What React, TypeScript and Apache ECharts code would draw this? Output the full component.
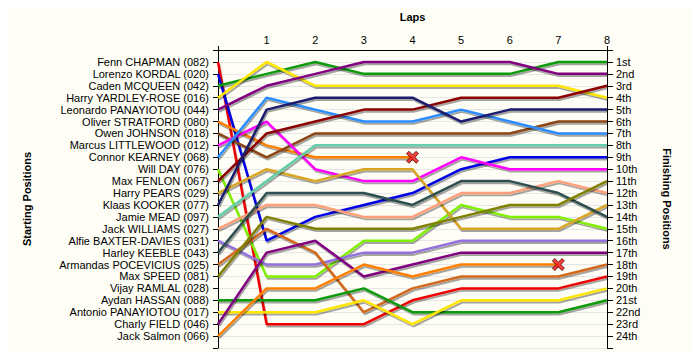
import React, { useEffect, useRef } from "react";
import * as echarts from "echarts";

const drivers: string[] = [
  "Fenn CHAPMAN (082)",
  "Lorenzo KORDAL (020)",
  "Caden MCQUEEN (042)",
  "Harry YARDLEY-ROSE (016)",
  "Leonardo PANAYIOTOU (044)",
  "Oliver STRATFORD (080)",
  "Owen JOHNSON (018)",
  "Marcus LITTLEWOOD (012)",
  "Connor KEARNEY (068)",
  "Will DAY (076)",
  "Max FENLON (067)",
  "Harry PEARS (029)",
  "Klaas KOOKER (077)",
  "Jamie MEAD (097)",
  "Jack WILLIAMS (027)",
  "Alfie BAXTER-DAVIES (031)",
  "Harley KEEBLE (043)",
  "Armandas POCEVICIUS (025)",
  "Max SPEED (081)",
  "Vijay RAMLAL (028)",
  "Aydan HASSAN (088)",
  "Antonio PANAYIOTOU (017)",
  "Charly FIELD (046)",
  "Jack Salmon (066)",
];

const lineColors: string[] = [
  "#ee0000", "#0000e6", "#0a9a0a", "#ffe600", "#800080", "#ff8000",
  "#8b4513", "#ff00ff", "#2b8cff", "#80f000", "#8b0000", "#daa520",
  "#1c1c6e", "#66cdaa", "#ffa07a", "#9370db", "#2f4f4f", "#d2691e",
  "#808000", "#888888", "#0a9a0a", "#ffe600", "#800080", "#ff8000",
];

// position of each driver at lap 0 (start) .. lap 8; shorter arrays = retired
const positionsByLap: number[][] = [
  [1, 23, 23, 23, 21, 20, 20, 20, 19],
  [2, 16, 14, 13, 12, 10, 9, 9, 9],
  [3, 2, 1, 2, 2, 2, 2, 1, 1],
  [4, 1, 3, 3, 3, 3, 3, 3, 4],
  [5, 3, 2, 1, 1, 1, 1, 2, 2],
  [6, 8, 9, 9, 9],
  [7, 9, 7, 7, 7, 7, 7, 6, 6],
  [8, 6, 10, 11, 11, 9, 10, 10, 10],
  [9, 4, 5, 6, 6, 5, 6, 7, 7],
  [10, 19, 19, 16, 16, 13, 14, 14, 15],
  [11, 7, 6, 5, 5, 4, 4, 4, 3],
  [12, 10, 11, 10, 10, 15, 15, 15, 13],
  [13, 5, 4, 4, 4, 6, 5, 5, 5],
  [14, 11, 8, 8, 8, 8, 8, 8, 8],
  [15, 13, 13, 14, 14, 12, 12, 11, 12],
  [16, 18, 18, 17, 17, 16, 16, 16, 16],
  [17, 12, 12, 12, 13, 11, 11, 12, 14],
  [18, 15, 17, 22, 20, 19, 19, 19, 18],
  [19, 14, 15, 15, 15, 14, 13, 13, 11],
  [],
  [21, 21, 21, 20, 22, 22, 22, 22, 21],
  [22, 22, 22, 21, 23, 21, 21, 21, 20],
  [23, 17, 16, 19, 18, 17, 17, 17, 17],
  [24, 20, 20, 18, 19, 18, 18, 18],
];

const lapCount = 8;

const finishLabels: string[] = [
  "1st", "2nd", "3rd", "4th", "5th", "6th", "7th", "8th", "9th", "10th",
  "11th", "12th", "13th", "14th", "15th", "16th", "17th", "18th", "19th",
  "20th", "21st", "22nd", "23rd", "24th",
];

const FONT = "'Liberation Sans', Arial, sans-serif";
const CROSS =
  "path://M2,0 L5,3 L8,0 L10,2 L7,5 L10,8 L8,10 L5,7 L2,10 L0,8 L3,5 L0,2 Z";

export default function App() {
  const ref = useRef<HTMLDivElement>(null);

  useEffect(() => {
    if (!ref.current) return;
    const chart = echarts.init(ref.current, undefined, { renderer: "svg" });

    const lineSeries = positionsByLap
      .map((arr, i) => ({ arr, i }))
      .filter((d) => d.arr.length > 0)
      .map(({ arr, i }) => ({
        type: "line" as const,
        name: drivers[i],
        data: arr.map((p, lap) => [lap, p]),
        showSymbol: false,
        symbol: "none",
        yAxisIndex: 0,
        lineStyle: {
          color: lineColors[i],
          width: 2.5,
          shadowColor: "rgba(0,0,0,0.35)",
          shadowBlur: 1,
          shadowOffsetX: 1,
          shadowOffsetY: 2,
        },
        itemStyle: { color: lineColors[i] },
        z: 3,
      }));

    const retired = positionsByLap
      .filter((arr) => arr.length > 0 && arr.length < lapCount + 1)
      .map((arr) => [arr.length - 1, arr[arr.length - 1]]);

    const yCommon = {
      type: "value" as const,
      min: 0,
      max: 25,
      interval: 1,
      inverse: true,
      nameLocation: "middle" as const,
      nameTextStyle: {
        fontFamily: FONT,
        fontSize: 11,
        fontWeight: "bold" as const,
        color: "#000",
      },
      axisLine: { show: true, lineStyle: { color: "#000", width: 1 } },
      axisTick: {
        show: true,
        inside: false,
        length: 5,
        lineStyle: { color: "#000" },
      },
    };

    chart.setOption({
      animation: false,
      backgroundColor: "#fefef6",
      textStyle: { fontFamily: FONT },
      grid: { left: 218, right: 93, top: 50, bottom: 12, containLabel: false },
      xAxis: {
        type: "value",
        position: "top",
        min: 0,
        max: lapCount,
        interval: 1,
        name: "Laps",
        nameLocation: "middle",
        nameGap: 28,
        nameTextStyle: {
          fontFamily: FONT,
          fontSize: 11,
          fontWeight: "bold",
          color: "#000",
        },
        axisLine: { show: true, lineStyle: { color: "#000", width: 1 } },
        axisTick: {
          show: true,
          length: 4,
          customValues: [0, lapCount],
          lineStyle: { color: "#000" },
        },
        axisLabel: {
          margin: 5,
          fontFamily: FONT,
          fontSize: 11,
          color: "#000",
          formatter: (v: number) => (v === 0 ? "" : String(v)),
        },
        splitLine: { show: true, lineStyle: { color: "#e6e6e6", width: 1 } },
      },
      yAxis: [
        {
          ...yCommon,
          position: "left",
          name: "Starting Positions",
          nameGap: 186,
          nameRotate: 90,
          axisLabel: {
            margin: 9,
            fontFamily: FONT,
            fontSize: 11,
            color: "#000",
            formatter: (v: number) =>
              v >= 1 && v <= drivers.length ? drivers[v - 1] : "",
          },
          splitLine: { show: true, lineStyle: { color: "#e6e6e6", width: 1 } },
        },
        {
          ...yCommon,
          position: "right",
          name: "Finishing Positions",
          nameGap: 54,
          nameRotate: -90,
          axisTick: { ...yCommon.axisTick, length: 6 },
          axisLabel: {
            margin: 9,
            fontFamily: FONT,
            fontSize: 11,
            color: "#000",
            formatter: (v: number) =>
              v >= 1 && v <= finishLabels.length ? finishLabels[v - 1] : "",
          },
          splitLine: { show: false },
        },
      ],
      series: [
        ...lineSeries,
        {
          type: "scatter",
          data: retired,
          symbol: CROSS,
          symbolSize: 12,
          itemStyle: {
            color: "#ee1111",
            borderColor: "#550000",
            borderWidth: 1,
          },
          z: 5,
        },
      ],
    });

    return () => chart.dispose();
  }, []);

  return <div ref={ref} style={{ width: 700, height: 360, margin: -8 }} />;
}
